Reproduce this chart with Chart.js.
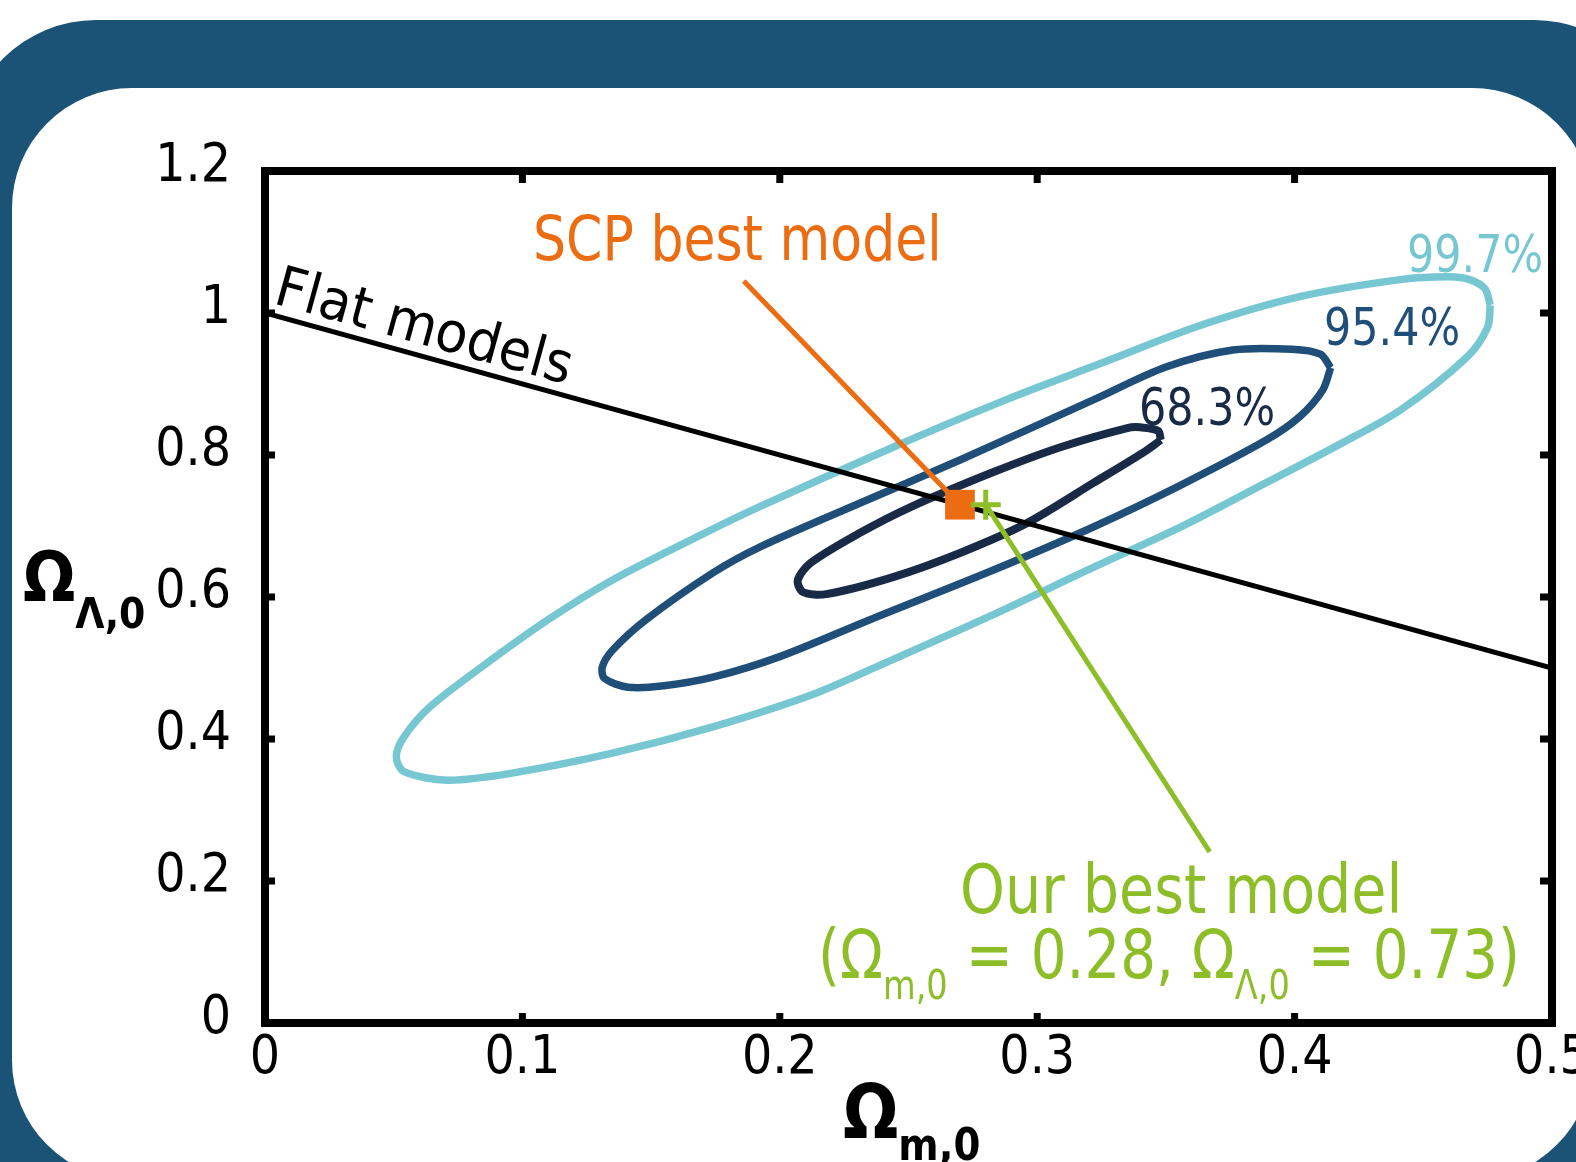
<!DOCTYPE html>
<html lang="en">
<head>
<meta charset="UTF-8">
<title>Omega m,0 x Omega Lambda,0</title>
<script src="https://cdn.jsdelivr.net/npm/chart.js@4.4.1/dist/chart.umd.min.js"></script>
<style>
    html, body { margin: 0; padding: 0; background: #ffffff; }
    canvas { display: block; }
</style>
</head>
<body>

<canvas id="grafico" width="1576" height="1162"></canvas>

<script>
    // eixos
    var eixo_x_valores = [0, 0.1, 0.2, 0.3, 0.4, 0.5];
    var eixo_x_rotulos = ['0', '0.1', '0.2', '0.3', '0.4', '0.5'];
    var eixo_y_valores = [0, 0.2, 0.4, 0.6, 0.8, 1, 1.2];
    var eixo_y_rotulos = ['0', '0.2', '0.4', '0.6', '0.8', '1', '1.2'];

    // contornos de confianca (Omega_m, Omega_Lambda)
    var contorno_683_x = [0.348, 0.347, 0.340, 0.335, 0.309, 0.283, 0.251, 0.231, 0.212, 0.207, 0.209, 0.218, 0.244, 0.270, 0.296, 0.322, 0.341, 0.348];
    var contorno_683_y = [0.821, 0.834, 0.839, 0.838, 0.811, 0.776, 0.727, 0.690, 0.648, 0.624, 0.607, 0.604, 0.628, 0.662, 0.704, 0.761, 0.803, 0.821];

    var contorno_954_x = [0.414, 0.410, 0.399, 0.376, 0.350, 0.322, 0.270, 0.231, 0.192, 0.174, 0.148, 0.135, 0.131, 0.132, 0.141, 0.155, 0.174, 0.200, 0.235, 0.283, 0.322, 0.356, 0.389, 0.402, 0.411, 0.414];
    var contorno_954_y = [0.923, 0.942, 0.949, 0.948, 0.924, 0.878, 0.793, 0.732, 0.670, 0.634, 0.568, 0.525, 0.501, 0.485, 0.473, 0.475, 0.487, 0.516, 0.568, 0.638, 0.699, 0.758, 0.821, 0.854, 0.892, 0.923];

    var contorno_997_x = [0.476, 0.474, 0.468, 0.460, 0.441, 0.402, 0.363, 0.324, 0.288, 0.244, 0.192, 0.168, 0.135, 0.110, 0.084, 0.064, 0.054, 0.051, 0.054, 0.071, 0.096, 0.135, 0.174, 0.213, 0.239, 0.281, 0.322, 0.356, 0.389, 0.418, 0.441, 0.467, 0.475, 0.476];
    var contorno_997_y = [1.011, 1.034, 1.047, 1.051, 1.047, 1.023, 0.982, 0.928, 0.878, 0.811, 0.727, 0.685, 0.624, 0.568, 0.501, 0.445, 0.403, 0.375, 0.354, 0.342, 0.352, 0.380, 0.417, 0.463, 0.504, 0.572, 0.642, 0.699, 0.761, 0.816, 0.863, 0.938, 0.980, 1.011];

    // modelos planos: Omega_m + Omega_Lambda = 1
    var planos_x = [0, 0.5];
    var planos_y = [1, 0.5];

    // melhores modelos
    var scp_x = [0.27];
    var scp_y = [0.73];
    var nosso_x = [0.28];
    var nosso_y = [0.73];

    // linhas de chamada dos rotulos
    var chamada_scp_x = [0.186, 0.27];
    var chamada_scp_y = [1.045, 0.73];
    var chamada_nosso_x = [0.28, 0.367];
    var chamada_nosso_y = [0.73, 0.241];

    var laranja = '#ec6c12';
    var verde = '#8dbe27';
    var ciano = '#77c7d3';
    var azul = '#1f4e78';
    var marinho = '#192a47';

    function pontos(xs, ys) {
        return xs.map(function (x, i) { return { x: x, y: ys[i] }; });
    }

    // texto estreitado na horizontal, em pedacos (para os subscritos)
    function escreve(ctx, partes, x, y, cor, compressao) {
        ctx.fillStyle = cor;
        ctx.textAlign = 'left';
        ctx.textBaseline = 'alphabetic';
        partes.forEach(function (p) {
            ctx.font = (p.negrito ? 'bold ' : '') + p.tam + 'px "DejaVu Sans"';
            ctx.save();
            ctx.translate(x, y + (p.dy || 0));
            ctx.scale(compressao, 1);
            ctx.fillText(p.txt, 0, 0);
            ctx.restore();
            x += ctx.measureText(p.txt).width * compressao;
        });
    }

    var fundo = {
        id: 'fundo',
        beforeDraw: function (chart) {
            var ctx = chart.ctx;
            ctx.save();
            ctx.fillStyle = '#ffffff';
            ctx.fillRect(0, 0, chart.width, chart.height);
            ctx.fillStyle = '#1b5376';
            ctx.beginPath();
            ctx.roundRect(-35, 20, 1700, 1300, 131);
            ctx.fill();
            ctx.fillStyle = '#ffffff';
            ctx.beginPath();
            ctx.roundRect(12, 88, 1580, 1092, 120);
            ctx.fill();
            ctx.restore();
        }
    };

    var moldura = {
        id: 'moldura',
        afterDatasetsDraw: function (chart) {
            var ctx = chart.ctx;
            var a = chart.chartArea;
            var ex = chart.scales.x;
            var ey = chart.scales.y;
            ctx.save();
            ctx.strokeStyle = '#000000';
            ctx.lineWidth = 8;
            ctx.strokeRect(a.left, a.top, a.right - a.left, a.bottom - a.top);
            ctx.lineWidth = 7;
            ctx.beginPath();
            eixo_x_valores.slice(1, -1).forEach(function (v) {
                var p = ex.getPixelForValue(v);
                ctx.moveTo(p, a.top);
                ctx.lineTo(p, a.top + 12);
                ctx.moveTo(p, a.bottom);
                ctx.lineTo(p, a.bottom - 10);
            });
            eixo_y_valores.slice(1, -1).forEach(function (v) {
                var p = ey.getPixelForValue(v);
                ctx.moveTo(a.left, p);
                ctx.lineTo(a.left + 10, p);
                ctx.moveTo(a.right, p);
                ctx.lineTo(a.right - 12, p);
            });
            ctx.stroke();
            ctx.restore();
        }
    };

    var textos = {
        id: 'textos',
        afterDraw: function (chart) {
            var ctx = chart.ctx;
            var ex = chart.scales.x;
            var ey = chart.scales.y;
            ctx.save();

            // rotulo da reta de modelos planos, inclinado junto com ela
            var x0 = ex.getPixelForValue(planos_x[0]), y0 = ey.getPixelForValue(planos_y[0]);
            var x1 = ex.getPixelForValue(planos_x[1]), y1 = ey.getPixelForValue(planos_y[1]);
            ctx.save();
            ctx.translate(272, 303);
            ctx.rotate(Math.atan2(y1 - y0, x1 - x0));
            ctx.scale(0.94, 1);
            ctx.fillStyle = '#000000';
            ctx.font = '56px "DejaVu Sans"';
            ctx.fillText('Flat models', 0, 0);
            ctx.restore();

            escreve(ctx, [{ txt: 'SCP best model', tam: 62 }], 533, 260, laranja, 0.84);
            escreve(ctx, [{ txt: '99.7%', tam: 51 }], 1407, 272, ciano, 0.84);
            escreve(ctx, [{ txt: '95.4%', tam: 51 }], 1324, 345, azul, 0.84);
            escreve(ctx, [{ txt: '68.3%', tam: 51 }], 1139, 425, marinho, 0.84);

            escreve(ctx, [{ txt: 'Our best model', tam: 68 }], 960, 913, verde, 0.84);
            escreve(ctx, [
                { txt: '(\u03A9', tam: 67 },
                { txt: 'm,0', tam: 40, dy: 21 },
                { txt: ' = 0.28, \u03A9', tam: 67 },
                { txt: '\u039B,0', tam: 40, dy: 21 },
                { txt: ' = 0.73)', tam: 67 }
            ], 818, 978, verde, 0.84);

            // titulos dos eixos
            escreve(ctx, [
                { txt: '\u03A9', tam: 70, negrito: true },
                { txt: '\u039B,0', tam: 43, negrito: true, dy: 27 }
            ], 23, 601, '#000000', 0.88);
            escreve(ctx, [
                { txt: '\u03A9', tam: 74, negrito: true },
                { txt: 'm,0', tam: 44, negrito: true, dy: 22 }
            ], 843, 1138, '#000000', 0.88);

            ctx.restore();
        }
    };

    var fonte_ticks = { family: '"DejaVu Sans Condensed", "DejaVu Sans"', size: 53 };

    var grafico = new Chart(document.getElementById('grafico'), {
        type: 'scatter',
        data: {
            datasets: [
                {
                    label: 'Our best model',
                    data: pontos(nosso_x, nosso_y),
                    pointStyle: 'cross',
                    pointRadius: 15,
                    pointBorderWidth: 5,
                    borderColor: verde,
                    backgroundColor: verde
                },
                {
                    label: 'SCP best model',
                    data: pontos(scp_x, scp_y),
                    pointStyle: 'rect',
                    pointRadius: 21,
                    pointBorderWidth: 0,
                    backgroundColor: laranja,
                    borderColor: laranja
                },
                {
                    label: 'chamada nosso',
                    data: pontos(chamada_nosso_x, chamada_nosso_y),
                    showLine: true,
                    borderColor: verde,
                    borderWidth: 5,
                    pointRadius: 0
                },
                {
                    label: 'chamada SCP',
                    data: pontos(chamada_scp_x, chamada_scp_y),
                    showLine: true,
                    borderColor: laranja,
                    borderWidth: 5,
                    pointRadius: 0
                },
                {
                    label: 'Flat models',
                    data: pontos(planos_x, planos_y),
                    showLine: true,
                    borderColor: '#000000',
                    borderWidth: 5,
                    pointRadius: 0
                },
                {
                    label: '68.3%',
                    data: pontos(contorno_683_x, contorno_683_y),
                    showLine: true,
                    borderColor: marinho,
                    borderWidth: 8,
                    tension: 0.3,
                    pointRadius: 0
                },
                {
                    label: '95.4%',
                    data: pontos(contorno_954_x, contorno_954_y),
                    showLine: true,
                    borderColor: azul,
                    borderWidth: 7.5,
                    tension: 0.3,
                    pointRadius: 0
                },
                {
                    label: '99.7%',
                    data: pontos(contorno_997_x, contorno_997_y),
                    showLine: true,
                    borderColor: ciano,
                    borderWidth: 7.5,
                    tension: 0.3,
                    pointRadius: 0
                }
            ]
        },
        options: {
            responsive: false,
            animation: false,
            layout: { padding: { left: 0, top: 171, right: 24, bottom: 0 } },
            plugins: {
                legend: { display: false },
                tooltip: { enabled: false }
            },
            scales: {
                x: {
                    type: 'linear',
                    min: 0,
                    max: 0.5,
                    grid: { display: false, drawTicks: false },
                    border: { display: false },
                    afterBuildTicks: function (escala) {
                        escala.ticks = eixo_x_valores.map(function (v) { return { value: v }; });
                    },
                    afterFit: function (escala) {
                        escala.height = 139;
                        escala.paddingLeft = 0;
                        escala.paddingRight = 0;
                    },
                    ticks: {
                        autoSkip: false,
                        maxRotation: 0,
                        padding: 4,
                        color: '#000000',
                        font: fonte_ticks,
                        callback: function (valor, indice) { return eixo_x_rotulos[indice]; }
                    }
                },
                y: {
                    type: 'linear',
                    min: 0,
                    max: 1.2,
                    grid: { display: false, drawTicks: false },
                    border: { display: false },
                    afterBuildTicks: function (escala) {
                        escala.ticks = eixo_y_valores.map(function (v) { return { value: v }; });
                    },
                    afterFit: function (escala) {
                        escala.width = 265;
                        escala.paddingTop = 0;
                        escala.paddingBottom = 0;
                    },
                    ticks: {
                        autoSkip: false,
                        padding: 34,
                        labelOffset: -4,
                        color: '#000000',
                        font: fonte_ticks,
                        callback: function (valor, indice) { return eixo_y_rotulos[indice]; }
                    }
                }
            }
        },
        plugins: [fundo, moldura, textos]
    });
</script>

</body>
</html>
